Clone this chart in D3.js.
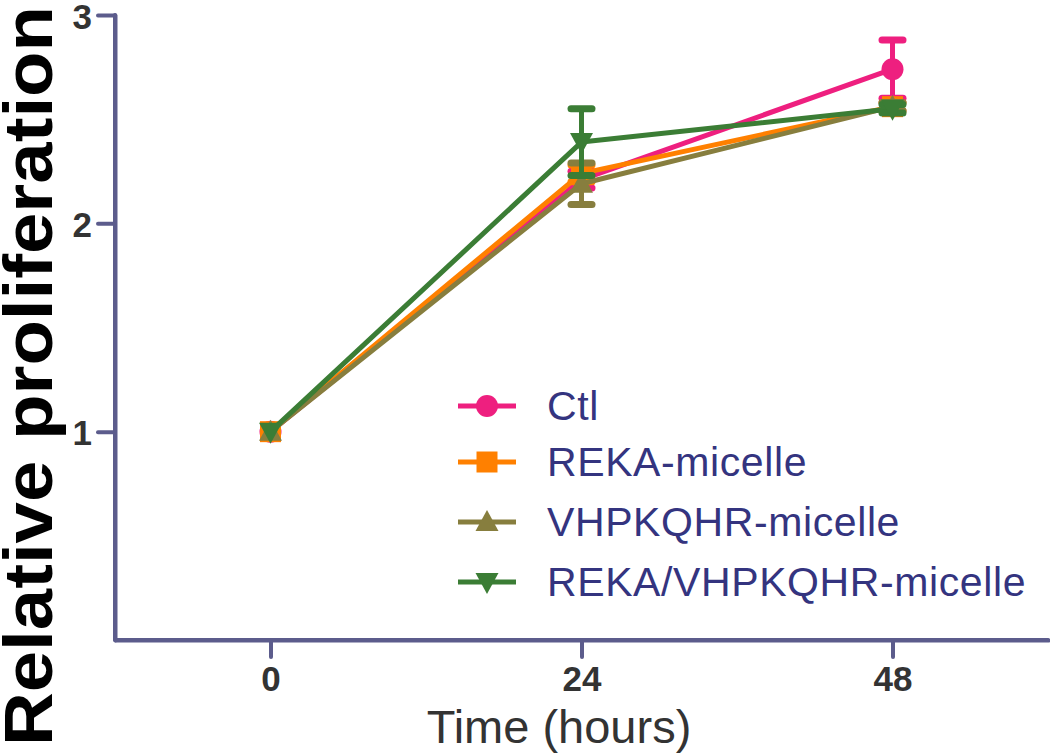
<!DOCTYPE html>
<html>
<head>
<meta charset="utf-8">
<script src="https://cdn.jsdelivr.net/npm/d3@7"></script>
<style>
  html, body { margin: 0; padding: 0; background: #fff; }
  svg { display: block; }
</style>
</head>
<body>
<svg id="chart" width="1050" height="754"></svg>
<script>
// ---- data ----
const hours = [0, 24, 48];
const seriesNames = ["Ctl", "REKA-micelle", "VHPKQHR-micelle", "REKA/VHPKQHR-micelle"];
const ctlMean = [1.0, 2.21, 2.74];
const ctlErr = [0.0, 0.04, 0.14];
const rekaMean = [1.0, 2.24, 2.56];
const rekaErr = [0.0, 0.04, 0.02];
const vhpMean = [1.0, 2.19, 2.56];
const vhpErr = [0.0, 0.10, 0.02];
const comboMean = [1.0, 2.39, 2.55];
const comboErr = [0.0, 0.16, 0.02];
const yTicks = [1, 2, 3];
const xTicks = [0, 24, 48];
const colors = ["#ee1f7f", "#ff8000", "#877e3e", "#3b7d35"];
const shapes = ["circle", "square", "triangle", "triangleDown"];

const series = [
  { name: seriesNames[0], mean: ctlMean, err: ctlErr },
  { name: seriesNames[1], mean: rekaMean, err: rekaErr },
  { name: seriesNames[2], mean: vhpMean, err: vhpErr },
  { name: seriesNames[3], mean: comboMean, err: comboErr }
];

const svg = d3.select("#chart");
const axisColor = "#5c5c8c";
const font = "Liberation Sans, Arial, sans-serif";

const x = d3.scaleLinear().domain([-12, 60]).range([115, 1048]);
const y = d3.scaleLinear().domain([0, 3]).range([640, 15]);

// axes
const yAxis = d3.axisLeft(y).tickValues(yTicks).tickSize(17).tickSizeOuter(0).tickPadding(6).tickFormat(d3.format("d"));
const xAxis = d3.axisBottom(x).tickValues(xTicks).tickSize(17).tickSizeOuter(0).tickPadding(9).tickFormat(d3.format("d"));

const gy = svg.append("g").attr("transform", "translate(115,0)").call(yAxis);
const gx = svg.append("g").attr("transform", "translate(0,640)").call(xAxis);
[gx, gy].forEach(g => {
  g.select(".domain").attr("stroke", axisColor).attr("stroke-width", 4).attr("stroke-linecap", "round").attr("stroke-linejoin", "round");
  g.selectAll(".tick line").attr("stroke", axisColor).attr("stroke-width", 4).attr("stroke-linecap", "round");
  g.selectAll(".tick text").attr("fill", "#333").attr("font-family", font)
    .attr("font-weight", "bold").attr("font-size", 35);
});
gy.selectAll(".tick text").attr("dy", "0.38em");
svg.append("path").attr("d", `M115,${y(3)}V640H${x(60)}`).attr("fill", "none")
  .attr("stroke", axisColor).attr("stroke-width", 4).attr("stroke-linejoin", "round").attr("stroke-linecap", "round");

// axis titles
svg.append("text").attr("transform", "translate(52,376) rotate(-90)")
  .attr("text-anchor", "middle").attr("font-family", font)
  .attr("font-weight", "bold").attr("font-size", 68).attr("fill", "#000")
  .attr("textLength", 740).attr("lengthAdjust", "spacingAndGlyphs")
  .text("Relative proliferation");
svg.append("text").attr("x", 559).attr("y", 743)
  .attr("text-anchor", "middle").attr("font-family", font)
  .attr("font-size", 47).attr("fill", "#333")
  .text("Time (hours)");

function markerPath(shape) {
  switch (shape) {
    case "circle": return d3.symbol(d3.symbolCircle, 380)();
    case "square": return "M-10.5,-10.5H10.5V10.5H-10.5Z";
    case "triangle": return "M0,-12L11.5,9H-11.5Z";
    case "triangleDown": return "M0,12L11.5,-9H-11.5Z";
  }
}

const line = d3.line().x((d, i) => x(hours[i])).y(d => y(d));

series.forEach((s, si) => {
  const g = svg.append("g");
  g.append("path").attr("d", line(s.mean)).attr("fill", "none")
    .attr("stroke", colors[si]).attr("stroke-width", 5).attr("stroke-linejoin", "round");
  s.mean.forEach((m, i) => {
    const e = s.err[i];
    if (e > 0) {
      const cx = x(hours[i]);
      g.append("line").attr("x1", cx).attr("x2", cx).attr("y1", y(m - e)).attr("y2", y(m + e))
        .attr("stroke", colors[si]).attr("stroke-width", 5);
      [m - e, m + e].forEach(v => {
        g.append("line").attr("x1", cx - 10.5).attr("x2", cx + 10.5).attr("y1", y(v)).attr("y2", y(v))
          .attr("stroke", colors[si]).attr("stroke-width", 7).attr("stroke-linecap", "round");
      });
    }
  });
  s.mean.forEach((m, i) => {
    g.append("path").attr("d", markerPath(shapes[si]))
      .attr("transform", `translate(${x(hours[i])},${y(m)})`).attr("fill", colors[si]);
  });
});

// legend
const legendRowY = [406, 462, 522, 582];
series.forEach((s, si) => {
  const ly = legendRowY[si];
  const g = svg.append("g");
  g.append("line").attr("x1", 458).attr("x2", 516).attr("y1", ly).attr("y2", ly)
    .attr("stroke", colors[si]).attr("stroke-width", 5);
  g.append("path").attr("d", markerPath(shapes[si])).attr("transform", `translate(487,${ly})`).attr("fill", colors[si]);
  g.append("text").attr("x", 547).attr("y", ly + 14).attr("font-family", font)
    .attr("font-size", 41).attr("letter-spacing", 0.6).attr("fill", "#34347f").text(s.name);
});
</script>
</body>
</html>
